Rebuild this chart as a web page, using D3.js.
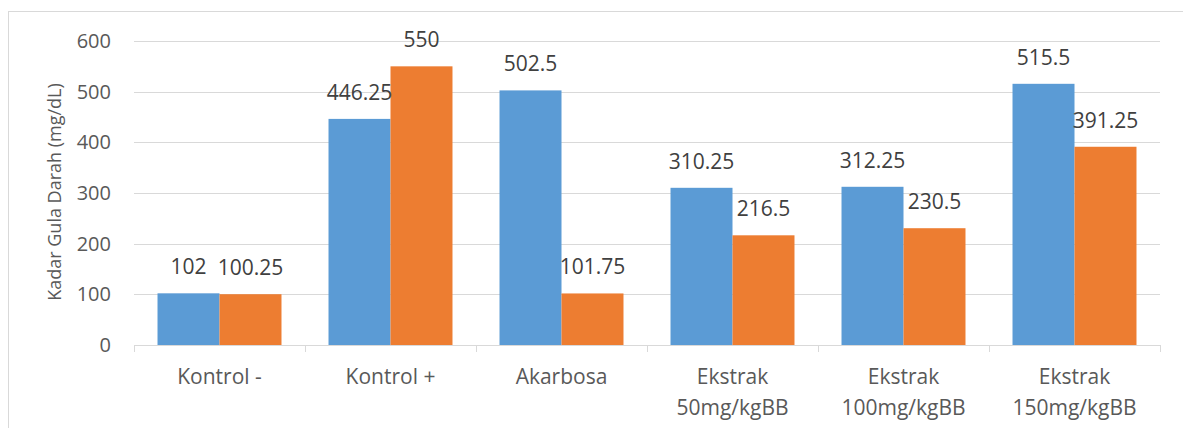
<!DOCTYPE html>
<html><head><meta charset="utf-8">
<script src="https://cdn.jsdelivr.net/npm/d3@7"></script>
<style>body{margin:0;background:#fff;}svg{display:block;font-family:"Open Sans",sans-serif;}</style>
</head><body>
<svg id="c" width="1183" height="428"></svg>
<script>
const categories = [["Kontrol -"],["Kontrol +"],["Akarbosa"],["Ekstrak","50mg/kgBB"],["Ekstrak","100mg/kgBB"],["Ekstrak","150mg/kgBB"]];
const series1 = [102, 446.25, 502.5, 310.25, 312.25, 515.5];
const series2 = [100.25, 550, 101.75, 216.5, 230.5, 391.25];
const labels1 = ["102","446.25","502.5","310.25","312.25","515.5"];
const labels2 = ["100.25","550","101.75","216.5","230.5","391.25"];
const yTicks = [0,100,200,300,400,500,600];
const seriesNames = ["s1","s2"];
const colors = ["#5B9BD5","#ED7D31"];

(function(){
const svg = d3.select("#c");
svg.append("rect").attr("x",8.5).attr("y",11.5).attr("width",1190).attr("height",430)
  .attr("fill","none").attr("stroke","#d9d9d9");

const pL=134, pR=1160, pT=41, pB=345;
const x0 = d3.scaleBand().domain(d3.range(categories.length)).range([pL,pR]).padding(0);
const gapFrac = 0.1375;
const x1 = d3.scaleBand().domain(seriesNames)
  .range([x0.bandwidth()*gapFrac, x0.bandwidth()*(1-gapFrac)]).padding(0);
const y = d3.scaleLinear().domain([0,600]).range([pB,pT]);

svg.append("g").selectAll("line").data(yTicks.filter(d=>d>0)).join("line")
  .attr("x1",pL).attr("x2",pR).attr("y1",d=>Math.round(y(d))+0.5).attr("y2",d=>Math.round(y(d))+0.5)
  .attr("stroke","#d9d9d9").attr("stroke-width",1);

svg.append("g").selectAll("text").data(yTicks).join("text")
  .attr("x",111).attr("y",d=>y(d)).attr("dy","0.35em").attr("text-anchor","end")
  .attr("font-size",20).attr("fill","#595959").text(d=>d);

const data = categories.map((c,i)=>({i, vals:[series1[i],series2[i]], labs:[labels1[i],labels2[i]]}));
const g = svg.append("g").selectAll("g").data(data).join("g")
  .attr("transform",d=>`translate(${x0(d.i)},0)`);
g.selectAll("rect").data(d=>d.vals.map((v,k)=>({v,k}))).join("rect")
  .attr("x",d=>x1(seriesNames[d.k])).attr("width",x1.bandwidth())
  .attr("y",d=>y(d.v)).attr("height",d=>y(0)-y(d.v)).attr("fill",d=>colors[d.k]);
g.selectAll("text").data(d=>d.vals.map((v,k)=>({v,k,l:d.labs[k]}))).join("text")
  .attr("x",d=>x1(seriesNames[d.k])+x1.bandwidth()/2).attr("y",d=>y(d.v)-19)
  .attr("text-anchor","middle").attr("font-size",21).attr("fill","#404040").text(d=>d.l);

const ax = svg.append("g");
ax.append("line").attr("x1",pL).attr("x2",pR).attr("y1",pB+0.5).attr("y2",pB+0.5).attr("stroke","#d9d9d9");
ax.selectAll("line.t").data(d3.range(categories.length+1)).join("line").attr("class","t")
  .attr("x1",i=>Math.round(pL+i*x0.step())+0.5).attr("x2",i=>Math.round(pL+i*x0.step())+0.5)
  .attr("y1",pB).attr("y2",pB+7).attr("stroke","#d9d9d9");
const xl = svg.append("g").selectAll("text").data(categories.map((c,i)=>({c,i}))).join("text")
  .attr("text-anchor","middle").attr("font-size",21).attr("fill","#595959");
xl.selectAll("tspan").data(d=>d.c.map((t,k)=>({t,k,i:d.i}))).join("tspan")
  .attr("x",d=>x0(d.i)+x0.bandwidth()/2).attr("y",d=>384+d.k*31).text(d=>d.t);

svg.append("text").attr("transform","translate(61,192) rotate(-90)").attr("text-anchor","middle")
  .attr("font-size",18).attr("fill","#595959").text("Kadar Gula Darah (mg/dL)");
})();
</script>
</body></html>
